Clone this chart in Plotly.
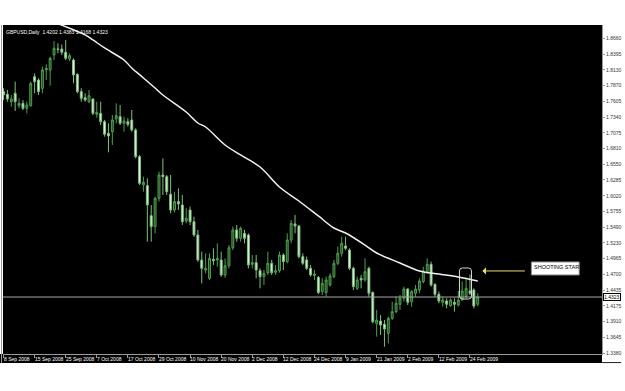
import plotly.graph_objects as go

# ---- data ----
bar_index = list(range(123))
open_ = [1.7766,1.7721,1.7598,1.7738,1.7531,1.7570,1.7486,1.7531,1.8017,1.7961,
         1.7822,1.8129,1.8129,1.8380,1.8481,1.8481,1.8425,1.8313,1.8296,1.8056,
         1.7766,1.7665,1.7598,1.7643,1.7386,1.7402,1.7263,1.7067,1.7095,1.7307,
         1.7346,1.7235,1.7263,1.7291,1.7123,1.6676,1.6201,1.6190,1.5687,1.5503,
         1.5978,1.6369,1.6341,1.6045,1.5782,1.5922,1.5866,1.5598,1.5782,1.5586,
         1.5363,1.4943,1.4776,1.4636,1.4955,1.4943,1.4943,1.4692,1.4848,1.5150,
         1.5447,1.5307,1.5391,1.5363,1.4871,1.4899,1.4765,1.4665,1.4732,1.4888,
         1.4737,1.4765,1.5028,1.4916,1.5279,1.5548,1.5514,1.5000,1.4944,1.4804,
         1.4682,1.4654,1.4413,1.4397,1.4525,1.4665,1.4888,1.5056,1.5179,1.5112,
         1.4804,1.4469,1.4637,1.4609,1.4804,1.4402,1.3882,1.3921,1.3865,1.3714,
         1.3966,1.4078,1.4201,1.4301,1.4458,1.4245,1.4385,1.4441,1.4581,1.4748,
         1.4871,1.4536,1.4368,1.4234,1.4257,1.4178,1.4234,1.4190,1.4273,1.4329,
         1.4424,1.4441,1.4202]
high = [1.7822,1.7794,1.7710,1.7933,1.7654,1.7626,1.7598,1.7933,1.8073,1.7989,
        1.8185,1.8224,1.8352,1.8615,1.8576,1.8559,1.8632,1.8408,1.8324,1.8073,
        1.7822,1.7738,1.7794,1.7654,1.7598,1.7598,1.7291,1.7235,1.7374,1.7570,
        1.7542,1.7346,1.7319,1.7458,1.7151,1.6704,1.6341,1.6313,1.5866,1.6006,
        1.6425,1.6648,1.6369,1.6369,1.6089,1.6145,1.6034,1.5810,1.5838,1.5670,
        1.5447,1.5083,1.5055,1.5055,1.5139,1.5223,1.5083,1.4971,1.5195,1.5503,
        1.5531,1.5503,1.5447,1.5391,1.5028,1.5028,1.4804,1.4776,1.5084,1.4944,
        1.4860,1.5084,1.5056,1.5391,1.5615,1.5699,1.5531,1.5056,1.5000,1.4860,
        1.4776,1.4676,1.4637,1.4665,1.4721,1.4944,1.5168,1.5335,1.5335,1.5140,
        1.4832,1.4665,1.4693,1.4972,1.4832,1.4413,1.4106,1.4022,1.3938,1.3994,
        1.4245,1.4329,1.4357,1.4497,1.4469,1.4441,1.4525,1.4637,1.4832,1.4972,
        1.4916,1.4553,1.4413,1.4329,1.4301,1.4301,1.4301,1.4424,1.4581,1.4637,
        1.4700,1.4469,1.4383]
low = [1.7626,1.7598,1.7514,1.7442,1.7486,1.7458,1.7402,1.7514,1.7738,1.7710,
       1.7738,1.7961,1.7866,1.8296,1.8408,1.8380,1.8296,1.8280,1.7905,1.7738,
       1.7598,1.7598,1.7570,1.7374,1.7330,1.7207,1.7011,1.6749,1.6872,1.7235,
       1.7207,1.7095,1.7179,1.7095,1.6648,1.6201,1.6089,1.5251,1.5251,1.5391,
       1.5922,1.6034,1.6034,1.5726,1.5743,1.5782,1.5531,1.5559,1.5531,1.5335,
       1.4915,1.4552,1.4720,1.4608,1.4860,1.4832,1.4664,1.4647,1.4804,1.5111,
       1.5251,1.5251,1.5223,1.4804,1.4804,1.4637,1.4469,1.4525,1.4693,1.4693,
       1.4693,1.4732,1.4776,1.4888,1.5223,1.5391,1.4972,1.4860,1.4776,1.4665,
       1.4609,1.4374,1.4357,1.4330,1.4497,1.4637,1.4860,1.4999,1.5112,1.4776,
       1.4441,1.4441,1.4469,1.4581,1.4329,1.3882,1.3659,1.3687,1.3491,1.3547,
       1.3938,1.4050,1.4106,1.4245,1.4190,1.4162,1.4329,1.4385,1.4553,1.4721,
       1.4497,1.4329,1.4218,1.4162,1.4134,1.4162,1.4078,1.4162,1.4257,1.4301,
       1.4357,1.4134,1.4168]
close = [1.7710,1.7643,1.7643,1.7598,1.7570,1.7486,1.7542,1.7905,1.7933,1.7766,
         1.8129,1.8157,1.8324,1.8492,1.8475,1.8425,1.8324,1.8369,1.8045,1.7766,
         1.7654,1.7626,1.7698,1.7402,1.7419,1.7263,1.7050,1.7022,1.7291,1.7363,
         1.7235,1.7274,1.7218,1.7123,1.6676,1.6229,1.6246,1.5866,1.5503,1.5978,
         1.6369,1.6341,1.6089,1.5782,1.5922,1.5883,1.5586,1.5642,1.5586,1.5363,
         1.4943,1.4804,1.4804,1.4971,1.4933,1.4971,1.4692,1.4848,1.5150,1.5447,
         1.5307,1.5475,1.5307,1.4860,1.4899,1.4776,1.4665,1.4720,1.4888,1.4732,
         1.4765,1.5028,1.4916,1.5279,1.5559,1.5514,1.5000,1.4888,1.4804,1.4693,
         1.4709,1.4397,1.4553,1.4609,1.4676,1.4888,1.5056,1.5223,1.5140,1.4804,
         1.4497,1.4609,1.4609,1.4748,1.4385,1.3910,1.3938,1.3854,1.3787,1.3966,
         1.4078,1.4218,1.4301,1.4458,1.4234,1.4413,1.4458,1.4592,1.4760,1.4871,
         1.4525,1.4368,1.4257,1.4273,1.4201,1.4273,1.4201,1.4273,1.4424,1.4469,
         1.4385,1.4172,1.4323]

ma_bars = [14, 21, 23, 26, 31, 33, 36, 39, 41, 47, 50, 52, 57, 61, 66, 71, 76,
           81, 85, 88, 93, 96, 102, 107, 112, 117, 122]
ma_values = [1.8905, 1.8716, 1.8632, 1.8498, 1.8296, 1.8162, 1.7995, 1.7827, 1.7710,
             1.7425, 1.7240, 1.7173, 1.6872, 1.6704, 1.6503, 1.6168, 1.5933, 1.5682,
             1.5480, 1.5397, 1.5195, 1.5061, 1.4894, 1.4760, 1.4709, 1.4659, 1.4592]

date_tick_bars = [0, 8, 16, 24, 32, 40, 48, 56, 64, 72, 80, 88, 96, 104, 112, 120]
date_labels = ["8 Sep 2008", "15 Sep 2008", "25 Sep 2008", "7 Oct 2008", "17 Oct 2008",
               "29 Oct 2008", "10 Nov 2008", "20 Nov 2008", "2 Dec 2008", "12 Dec 2008",
               "24 Dec 2008", "9 Jan 2009", "21 Jan 2009", "2 Feb 2009", "12 Feb 2009",
               "24 Feb 2009"]
price_ticks = [1.3380, 1.3645, 1.3910, 1.4175, 1.4435, 1.4700, 1.4965, 1.5230, 1.5490,
               1.5755, 1.6020, 1.6285, 1.6550, 1.6810, 1.7075, 1.7340, 1.7605, 1.7870,
               1.8130, 1.8395, 1.8660, 1.8925]
last_price = 1.4323
title_text = "GBPUSD,Daily  1.4202 1.4383 1.4168 1.4323"

FONT = "Liberation Sans"

fig = go.Figure()
fig.add_trace(go.Candlestick(
    x=bar_index, open=open_, high=high, low=low, close=close,
    increasing=dict(line=dict(color="#4f9f4f", width=1), fillcolor="#214521"),
    decreasing=dict(line=dict(color="#7fc07f", width=1), fillcolor="#e4f6e4"),
    whiskerwidth=0, showlegend=False, hoverinfo="skip"))

fig.add_trace(go.Scatter(x=ma_bars, y=ma_values, mode="lines",
                         line=dict(color="#f2f2f2", width=1.5, shape="spline", smoothing=1.0),
                         showlegend=False, hoverinfo="skip"))

xr = [-0.13, 153.97]
yr = [1.3368, 1.8883]

fig.update_layout(
    width=625, height=391,
    margin=dict(l=3, r=21, t=25, b=37),
    paper_bgcolor="white", plot_bgcolor="black",
    showlegend=False,
    xaxis=dict(range=xr, showgrid=False, zeroline=False, rangeslider=dict(visible=False),
               showline=True, linecolor="#9a9a9a", linewidth=1,
               tickmode="array", tickvals=date_tick_bars, showticklabels=False,
               ticks="outside", ticklen=3, tickcolor="#9a9a9a"),
    yaxis=dict(range=yr, side="right", showgrid=False, zeroline=False,
               showline=True, linecolor="#9a9a9a", linewidth=1,
               tickmode="array", tickvals=price_ticks,
               ticktext=[f"{v:.4f}" for v in price_ticks],
               ticks="outside", ticklen=2, tickcolor="#9a9a9a",
               tickfont=dict(family=FONT, size=5, color="#333333")),
)

shapes = []
# black band for date labels
shapes.append(dict(type="rect", xref="paper", yref="paper", x0=-0.006, x1=1.0,
                   y0=-0.0275, y1=0, fillcolor="black", line=dict(width=0), layer="below"))
# bottom dark line under the price column
shapes.append(dict(type="line", xref="paper", yref="paper", x0=1.0, x1=1.032,
                   y0=-0.026, y1=-0.026, line=dict(color="#222222", width=1)))
# left gray border
shapes.append(dict(type="line", xref="paper", yref="paper", x0=-0.0025, x1=-0.0025,
                   y0=-0.0275, y1=1, line=dict(color="#9a9a9a", width=1)))
# current price line
shapes.append(dict(type="line", xref="paper", yref="y", x0=0, x1=1,
                   y0=last_price, y1=last_price, line=dict(color="#a8a8a8", width=1)))
# rounded box round the shooting star
x0, x1, yt, yb = 117.3, 120.4, 1.4810, 1.4290
rx, ry = 0.8, 0.005
path = (f"M {x0},{yb+ry} L {x0},{yt-ry} Q {x0},{yt} {x0+rx},{yt} L {x1-rx},{yt} "
        f"Q {x1},{yt} {x1},{yt-ry} L {x1},{yb+ry} Q {x1},{yb} {x1-rx},{yb} "
        f"L {x0+rx},{yb} Q {x0},{yb} {x0},{yb+ry} Z")
shapes.append(dict(type="path", xref="x", yref="y", path=path,
                   line=dict(color="#d8d8d8", width=1)))
# label box
shapes.append(dict(type="rect", xref="x", yref="y", x0=135.8, x1=148.1,
                   y0=1.4693, y1=1.4911, fillcolor="white",
                   line=dict(color="#888888", width=1)))
fig.update_layout(shapes=shapes)

ann = []
ann.append(dict(xref="paper", yref="paper", x=0.002, y=0.995, xanchor="left", yanchor="top",
                text=title_text, showarrow=False,
                font=dict(family=FONT, size=5, color="white")))
for b, lab in zip(date_tick_bars, date_labels):
    ann.append(dict(xref="x", yref="paper", x=b, y=-0.0145, xanchor="left", yanchor="middle",
                    text=lab, showarrow=False, xshift=-1, borderpad=0,
                    font=dict(family=FONT, size=5, color="white")))
ann.append(dict(xref="paper", yref="y", x=1.0, y=last_price, xanchor="left", yanchor="middle",
                text=f"{last_price:.4f}", showarrow=False, bgcolor="white",
                bordercolor="black", borderwidth=1, borderpad=0, xshift=1,
                font=dict(family=FONT, size=5, color="black")))
ann.append(dict(xref="x", yref="y", x=136.3, y=1.4900, xanchor="left", yanchor="top",
                text="SHOOTING STAR", showarrow=False, borderpad=0,
                font=dict(family=FONT, size=5.5, color="black")))
ann.append(dict(xref="x", yref="y", x=123.2, y=1.4760, ax=44, ay=0, text="",
                showarrow=True, arrowhead=1, arrowsize=1.2, arrowwidth=1,
                arrowcolor="#e6df6a"))
fig.update_layout(annotations=ann)

fig.write_html("out.html")
